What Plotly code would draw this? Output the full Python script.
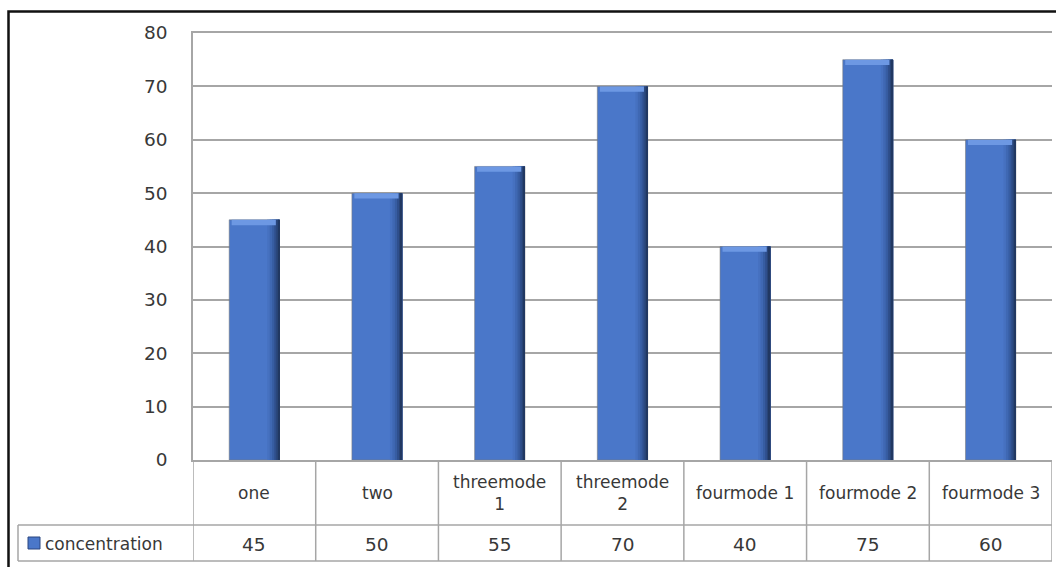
import plotly.graph_objects as go

# Data
categories = ["one", "two", "threemode 1", "threemode 2", "fourmode 1", "fourmode 2", "fourmode 3"]
concentration = [45, 50, 55, 70, 40, 75, 60]
series_name = "concentration"
y_ticks = [0, 10, 20, 30, 40, 50, 60, 70, 80]

W, H = 1056, 567
FAMILY = "DejaVu Sans, Verdana, sans-serif"
TEXT = "#383838"
FONT = dict(family=FAMILY, size=17, color=TEXT)
NUM_FONT = dict(family=FAMILY, size=18.5, color=TEXT)
GRID = "#a6a6a6"
BLUE = "#4a77c9"

# pixel helpers for the data-table layout
def px_x(v):
    return v / W

def px_y(v):
    return (H - v) / H

plot_left, plot_right, plot_top, plot_bottom = 193, 1052, 33, 460
header_bottom, table_bottom, legend_left = 525, 561, 18

fig = go.Figure()

bar_w = 0.41
half = bar_w / 2

# main column body
fig.add_trace(go.Bar(
    x=categories, y=concentration, width=bar_w, offset=-half,
    marker=dict(color=BLUE, line=dict(color="rgba(120,120,120,0.55)", width=1)),
    name=series_name, showlegend=False, hoverinfo="x+y",
))

# shaded right side of each column (gradient approximated by strips)
shade = [(0.1, "#4671c0"), (0.08, "#3f68b3"), (0.06, "#375da2"), (0.042, "#2f4f8c"), (0.026, "#284476"), (0.012, "#213862")]
for w, c in shade:
    fig.add_trace(go.Bar(
        x=categories, y=concentration, width=w, offset=half - w,
        marker=dict(color=c, line=dict(width=0)),
        showlegend=False, hoverinfo="skip",
    ))

# lighter bevel along the top of each column
bevel = 1.0
fig.add_trace(go.Bar(
    x=categories, y=[bevel] * len(concentration), base=[v - bevel for v in concentration],
    width=bar_w - 0.05, offset=-half + 0.02,
    marker=dict(color="#6d98e3", line=dict(width=0)),
    showlegend=False, hoverinfo="skip",
))

fig.update_layout(
    width=W, height=H,
    margin=dict(l=0, r=0, t=0, b=0, autoexpand=False),
    paper_bgcolor="white", plot_bgcolor="white",
    barmode="overlay",
    font=FONT,
    showlegend=False,
    xaxis=dict(
        domain=[px_x(plot_left), px_x(plot_right)],
        showticklabels=False, showgrid=False, zeroline=False,
        showline=True, mirror=True, linecolor=GRID, linewidth=1.5,
        range=[-0.5, len(categories) - 0.5], automargin=False,
        categoryorder="array", categoryarray=categories,
    ),
    yaxis=dict(
        domain=[px_y(plot_bottom), px_y(plot_top)],
        range=[0, 80], tickvals=y_ticks, automargin=False,
        showgrid=True, gridcolor=GRID, gridwidth=1.5,
        zeroline=False, showline=True, linecolor=GRID, linewidth=1.5,
        ticks="", ticklabelstandoff=20,
        tickfont=NUM_FONT,
    ),
)

shapes = []
line = dict(color=GRID, width=1.5)
# outer chart border (top and left visible)
shapes.append(dict(type="rect", xref="paper", yref="paper",
                   x0=px_x(8.5), x1=px_x(1075), y0=px_y(585), y1=px_y(11.5),
                   line=dict(color="#111111", width=2.5), layer="above"))
# horizontal table rules
for yy in (header_bottom, table_bottom):
    shapes.append(dict(type="line", xref="paper", yref="paper",
                       x0=px_x(legend_left), x1=px_x(plot_right), y0=px_y(yy), y1=px_y(yy), line=line))
# vertical table rules at category boundaries
for i in range(len(categories) + 1):
    shapes.append(dict(type="line", xref="x", yref="paper",
                       x0=i - 0.5, x1=i - 0.5, y0=px_y(plot_bottom), y1=px_y(table_bottom), line=line))
shapes.append(dict(type="line", xref="paper", yref="paper",
                   x0=px_x(legend_left), x1=px_x(legend_left),
                   y0=px_y(header_bottom), y1=px_y(table_bottom), line=line))
# legend key swatch
shapes.append(dict(type="rect", xref="paper", yref="paper",
                   x0=px_x(28), x1=px_x(40), y0=px_y(549), y1=px_y(537),
                   fillcolor=BLUE, line=dict(color="#2a4780", width=1)))
fig.update_layout(shapes=shapes)

annotations = []
for cat, val in zip(categories, concentration):
    label = cat.replace(" ", "<br>") if len(cat) > 10 else cat
    annotations.append(dict(x=cat, xref="x", y=px_y(493), yref="paper", text=label,
                            showarrow=False, font=FONT, yanchor="middle", xanchor="center"))
    annotations.append(dict(x=cat, xref="x", y=px_y(544), yref="paper", text=str(val),
                            showarrow=False, font=NUM_FONT, yanchor="middle", xanchor="center"))
annotations.append(dict(x=px_x(43), xref="paper", y=px_y(544), yref="paper", text=series_name,
                        showarrow=False, font=FONT, yanchor="middle", xanchor="left"))
fig.update_layout(annotations=annotations)

fig.write_html("out.html")
